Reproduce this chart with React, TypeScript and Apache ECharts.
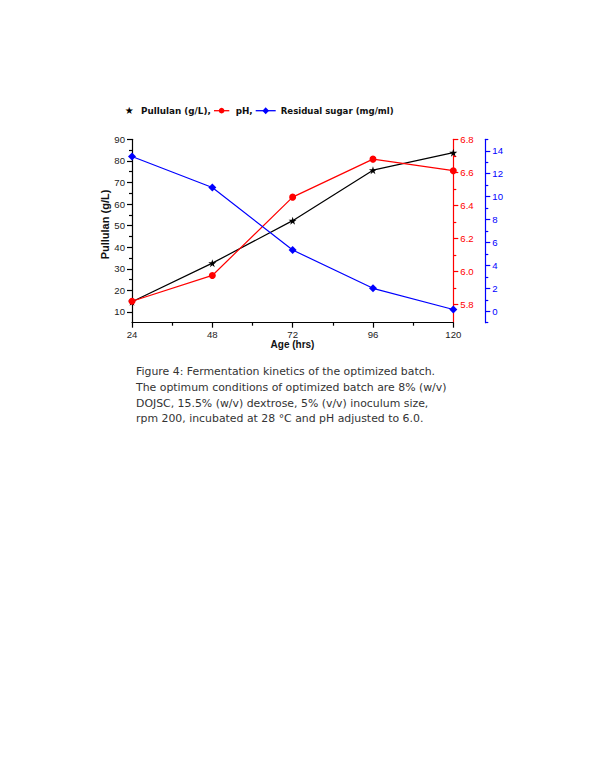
import React, { useEffect, useRef } from "react";
import * as echarts from "echarts";

const ages = [24, 48, 72, 96, 120];
const pullulan = [14.7, 32.6, 52.3, 75.7, 83.8];
const ph = [5.82, 5.976, 6.45, 6.68, 6.61];
const sugar = [13.5, 10.8, 5.34, 2.0, 0.15];

const xMajor = [24, 48, 72, 96, 120];
const xMinor = [36, 60, 84, 108];
const leftMajor = [10, 20, 30, 40, 50, 60, 70, 80, 90];
const leftMinor = [15, 25, 35, 45, 55, 65, 75, 85];
const phMajor = [5.8, 6.0, 6.2, 6.4, 6.6, 6.8];
const phMinor = [5.9, 6.1, 6.3, 6.5, 6.7];
const sugarMajor = [0, 2, 4, 6, 8, 10, 12, 14];
const sugarMinor = [-1, 1, 3, 5, 7, 9, 11, 13, 15];

const captionLines = [
  "Figure 4: Fermentation kinetics of the optimized batch.",
  "The optimum conditions of optimized batch are 8% (w/v)",
  "DOJSC, 15.5% (w/v) dextrose, 5% (v/v) inoculum size,",
  "rpm 200, incubated at 28 \u00B0C and pH adjusted to 6.0.",
];

const STAR =
  "path://M50,0 L61,35 L98,35 L68,57 L79,91 L50,70 L21,91 L32,57 L2,35 L39,35 Z";

const tickFont = "'Liberation Sans', Arial, sans-serif";
const boldFont = "'DejaVu Sans', Verdana, sans-serif";

function zip(xs: number[], ys: number[]) {
  return xs.map((x, i) => [x, ys[i]]);
}

export default function App() {
  const ref = useRef<HTMLDivElement>(null);
  useEffect(() => {
    if (!ref.current) return;
    const chart = echarts.init(ref.current, null, { renderer: "svg" });
    const black = "#000000";
    const red = "#ff0000";
    const blue = "#0000ff";
    const fs = 9.6;

    const yBase = (color: string) => ({
      type: "value",
      splitLine: { show: false },
      axisLine: { show: true, lineStyle: { color, width: 1.2 } },
    });

    const option: any = {
      animation: false,
      grid: { left: 132, right: 146.7, top: 139.3, height: 183.4 },
      xAxis: [
        {
          type: "value",
          min: 24,
          max: 120,
          position: "bottom",
          splitLine: { show: false },
          axisLine: { show: true, onZero: false, lineStyle: { color: black, width: 1.2 } },
          axisTick: { show: true, customValues: xMajor, length: 5, lineStyle: { color: black, width: 1.2 } },
          axisLabel: { customValues: xMajor, fontSize: fs, fontFamily: tickFont, color: "#222", margin: 7 },
        },
        {
          type: "value",
          min: 24,
          max: 120,
          position: "bottom",
          splitLine: { show: false },
          axisLine: { show: false, onZero: false },
          axisTick: { show: true, customValues: xMinor, length: 3, lineStyle: { color: black, width: 1.2 } },
          axisLabel: { show: false },
        },
      ],
      yAxis: [
        {
          ...yBase(black),
          position: "left",
          min: 5,
          max: 90,
          axisTick: { show: true, customValues: leftMajor, length: 5, lineStyle: { color: black, width: 1.2 } },
          axisLabel: { customValues: leftMajor, fontSize: fs, fontFamily: tickFont, color: "#222", margin: 7 },
        },
        {
          ...yBase(red),
          position: "right",
          min: 5.69,
          max: 6.8,
          axisTick: { show: true, customValues: phMajor, length: 5, lineStyle: { color: red, width: 1.2 } },
          axisLabel: {
            customValues: phMajor,
            fontSize: fs,
            fontFamily: tickFont,
            color: red,
            margin: 7,
            formatter: (v: number) => v.toFixed(1),
          },
        },
        {
          ...yBase(blue),
          position: "right",
          offset: 32,
          min: -1,
          max: 15,
          axisTick: { show: true, customValues: sugarMajor, length: 5, lineStyle: { color: blue, width: 1.2 } },
          axisLabel: { customValues: sugarMajor, fontSize: fs, fontFamily: tickFont, color: blue, margin: 7 },
        },
        {
          type: "value",
          position: "left",
          min: 5,
          max: 90,
          splitLine: { show: false },
          axisLine: { show: false },
          axisTick: { show: true, customValues: leftMinor, length: 3, lineStyle: { color: black, width: 1.2 } },
          axisLabel: { show: false },
        },
        {
          type: "value",
          position: "right",
          min: 5.69,
          max: 6.8,
          splitLine: { show: false },
          axisLine: { show: false },
          axisTick: { show: true, customValues: phMinor, length: 3, lineStyle: { color: red, width: 1.2 } },
          axisLabel: { show: false },
        },
        {
          type: "value",
          position: "right",
          offset: 32,
          min: -1,
          max: 15,
          splitLine: { show: false },
          axisLine: { show: false },
          axisTick: { show: true, customValues: sugarMinor, length: 3, lineStyle: { color: blue, width: 1.2 } },
          axisLabel: { show: false },
        },
      ],
      series: [
        {
          name: "Pullulan (g/L)",
          type: "line",
          xAxisIndex: 0,
          yAxisIndex: 0,
          data: zip(ages, pullulan),
          symbol: STAR,
          symbolSize: 8,
          lineStyle: { color: black, width: 1.2 },
          itemStyle: { color: black },
          z: 2,
        },
        {
          name: "pH",
          type: "line",
          xAxisIndex: 0,
          yAxisIndex: 1,
          data: zip(ages, ph),
          symbol: "circle",
          symbolSize: 7,
          lineStyle: { color: red, width: 1.2 },
          itemStyle: { color: red },
          z: 3,
        },
        {
          name: "Residual sugar (mg/ml)",
          type: "line",
          xAxisIndex: 0,
          yAxisIndex: 2,
          data: zip(ages, sugar),
          symbol: "diamond",
          symbolSize: 8,
          lineStyle: { color: blue, width: 1.2 },
          itemStyle: { color: blue },
          z: 4,
        },
      ],
      graphic: [
        {
          type: "text",
          x: 105,
          y: 224.5,
          rotation: Math.PI / 2,
          style: {
            text: "Pullulan (g/L)",
            fontSize: 11,
            fontWeight: "bold",
            fontFamily: tickFont,
            fill: "#111",
            align: "center",
            verticalAlign: "middle",
          },
        },
        {
          type: "text",
          x: 292.5,
          y: 344.3,
          style: {
            text: "Age (hrs)",
            fontSize: 10,
            fontWeight: "bold",
            fontFamily: tickFont,
            fill: "#111",
            align: "center",
            verticalAlign: "middle",
          },
        },
        {
          type: "group",
          children: [
            {
              type: "text",
              x: 129.3,
              y: 110.7,
              style: { text: "\u2605", fontSize: 10, fontFamily: boldFont, fill: black, align: "center", verticalAlign: "middle" },
            },
            {
              type: "text",
              x: 141,
              y: 110.7,
              style: { text: "Pullulan (g/L),", fontSize: 8.8, fontWeight: "bold", fontFamily: boldFont, fill: "#111", verticalAlign: "middle" },
            },
            {
              type: "line",
              shape: { x1: 214, y1: 110.7, x2: 229.3, y2: 110.7 },
              style: { stroke: red, lineWidth: 1.3 },
            },
            {
              type: "circle",
              shape: { cx: 221.6, cy: 110.7, r: 2.8 },
              style: { fill: red },
            },
            {
              type: "text",
              x: 235.7,
              y: 110.7,
              style: { text: "pH,", fontSize: 8.8, fontWeight: "bold", fontFamily: boldFont, fill: "#111", verticalAlign: "middle" },
            },
            {
              type: "line",
              shape: { x1: 255.7, y1: 110.7, x2: 275.7, y2: 110.7 },
              style: { stroke: blue, lineWidth: 1.3 },
            },
            {
              type: "polygon",
              shape: { points: [[265.7, 107.2], [269, 110.7], [265.7, 114.2], [262.4, 110.7]] },
              style: { fill: blue },
            },
            {
              type: "text",
              x: 280.7,
              y: 110.7,
              style: {
                text: "Residual sugar (mg/ml)",
                fontSize: 8.6,
                fontWeight: "bold",
                fontFamily: boldFont,
                fill: "#111",
                verticalAlign: "middle",
              },
            },
          ],
        },
        {
          type: "text",
          x: 136,
          y: 363.8,
          style: {
            text: captionLines.join("\n"),
            fontSize: 10.9,
            lineHeight: 15.7,
            fontFamily: boldFont,
            fill: "#333",
            verticalAlign: "top",
          },
        },
      ],
    };
    chart.setOption(option);
    return () => chart.dispose();
  }, []);
  return (
    <div
      ref={ref}
      style={{ position: "absolute", left: 0, top: 0, width: 600, height: 776, background: "#fff" }}
    />
  );
}
